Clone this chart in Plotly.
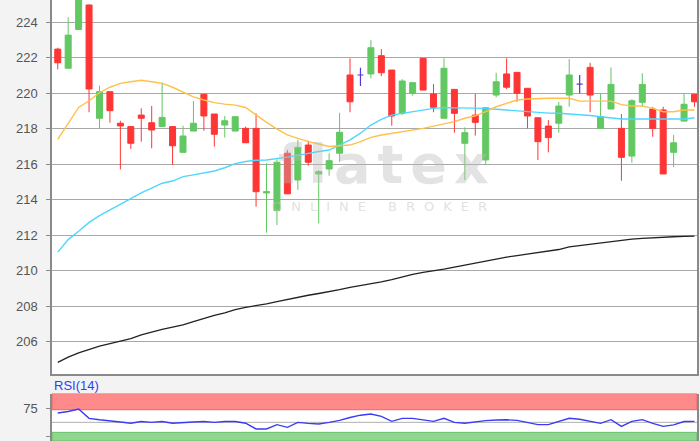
import plotly.graph_objects as go

# ---- data ----
opens = [222.49, 221.41, 223.60, 224.98, 218.59, 220.09, 218.31, 218.12, 218.77, 218.34,
         218.12, 218.12, 216.67, 217.87, 219.94, 218.83, 218.21, 217.87, 218.02, 218.02,
         214.38, 213.38, 216.62, 215.11, 217.08, 215.45, 215.73, 216.62, 221.03, 221.03,
         221.09, 222.12, 221.31, 218.87, 220.00, 221.97, 219.96, 218.59, 220.22, 217.18,
         218.77, 216.24, 219.90, 221.09, 221.18, 220.28, 218.62, 218.15, 218.31, 219.90,
         220.52, 221.46, 218.02, 219.11, 218.02, 216.46, 219.49, 219.11, 219.06, 216.67,
         218.43, 219.94]
highs = [222.57, 224.28, 225.90, 225.00, 220.43, 220.10, 218.45, 218.12, 219.15, 219.28,
         220.60, 218.12, 218.17, 219.56, 219.96, 218.83, 218.72, 218.70, 218.12, 218.87,
         216.05, 216.28, 216.80, 217.37, 217.33, 215.67, 216.62, 218.90, 221.97, 221.44,
         223.00, 222.49, 221.31, 220.80, 220.60, 221.97, 220.52, 221.97, 220.22, 218.08,
         219.96, 219.19, 221.16, 221.97, 221.18, 220.28, 218.62, 218.49, 219.52, 221.93,
         221.03, 221.72, 219.96, 221.46, 218.83, 219.66, 221.13, 219.24, 219.24, 217.65,
         219.96, 219.94]
lows = [221.35, 221.41, 223.60, 218.93, 218.02, 218.34, 215.71, 216.86, 217.27, 216.90,
        218.12, 215.96, 216.67, 217.87, 217.89, 216.99, 217.50, 217.87, 217.21, 213.60,
        212.14, 212.57, 214.33, 214.55, 215.92, 212.67, 215.35, 216.14, 218.93, 220.41,
        220.84, 220.97, 218.17, 218.77, 219.86, 220.18, 218.93, 218.59, 217.78, 215.11,
        217.61, 216.01, 219.77, 220.24, 219.52, 218.02, 216.24, 216.67, 217.78, 219.24,
        220.00, 218.93, 218.02, 219.11, 215.07, 216.08, 219.24, 217.55, 215.45, 215.83,
        218.43, 219.24]
closes = [221.72, 223.28, 225.60, 220.24, 220.09, 219.02, 218.16, 217.18, 218.59, 217.93,
          218.64, 217.04, 217.59, 218.31, 218.72, 217.69, 218.45, 218.68, 217.21, 214.45,
          214.45, 216.11, 214.33, 216.95, 216.11, 215.58, 216.20, 217.80, 219.52, 221.03,
          222.57, 221.16, 218.72, 220.69, 220.60, 220.18, 219.21, 221.41, 218.87, 217.78,
          218.36, 219.19, 220.65, 220.34, 220.00, 218.72, 217.27, 217.50, 219.28, 221.03,
          220.52, 219.90, 218.68, 220.50, 216.39, 219.58, 220.50, 218.02, 215.45, 217.21,
          219.38, 219.52]

ma_short = [217.40, 218.30, 219.20, 219.58, 220.03, 220.34, 220.56, 220.65, 220.73, 220.65,
            220.56, 220.34, 220.05, 219.80, 219.62, 219.47, 219.39, 219.33, 219.20, 218.77,
            218.36, 217.98, 217.65, 217.46, 217.27, 217.14, 217.00, 217.04, 217.08, 217.27,
            217.51, 217.65, 217.74, 217.83, 217.93, 218.02, 218.15, 218.27, 218.40, 218.59,
            218.73, 218.96, 219.24, 219.43, 219.62, 219.68, 219.72, 219.72, 219.72, 219.72,
            219.56, 219.56, 219.56, 219.56, 219.36, 219.28, 219.28, 219.15, 218.96, 218.96,
            219.06, 219.06]
ma_mid = [211.04, 211.75, 212.22, 212.72, 213.10, 213.42, 213.72, 214.04, 214.38, 214.65,
          214.93, 215.05, 215.30, 215.40, 215.50, 215.62, 215.80, 216.03, 216.15, 216.22,
          216.24, 216.30, 216.40, 216.50, 216.63, 216.72, 216.80, 217.08, 217.37, 217.75,
          218.21, 218.53, 218.77, 218.87, 218.96, 219.09, 219.15, 219.19, 219.19, 219.19,
          219.17, 219.15, 219.10, 219.06, 218.98, 218.94, 218.90, 218.88, 218.87, 218.84,
          218.81, 218.75, 218.68, 218.62, 218.55, 218.55, 218.55, 218.57, 218.59, 218.57,
          218.55, 218.62]
ma_long = [204.83, 205.12, 205.36, 205.55, 205.74, 205.88, 206.02, 206.17, 206.38, 206.54,
           206.68, 206.81, 206.94, 207.13, 207.32, 207.48, 207.62, 207.80, 207.93, 208.02,
           208.13, 208.25, 208.38, 208.50, 208.61, 208.71, 208.81, 208.93, 209.06, 209.15,
           209.26, 209.37, 209.49, 209.65, 209.79, 209.90, 209.98, 210.08, 210.20, 210.32,
           210.43, 210.55, 210.66, 210.76, 210.85, 210.94, 211.01, 211.09, 211.19, 211.34,
           211.42, 211.50, 211.58, 211.65, 211.71, 211.78, 211.82, 211.86, 211.89, 211.91,
           211.93, 211.95]
rsi = [66.4, 69.0, 73.3, 57.0, 54.5, 53.0, 50.5, 48.5, 51.5, 50.0,
       51.5, 48.5, 50.0, 50.5, 51.5, 50.0, 51.5, 51.5, 48.5, 38.5,
       38.5, 46.0, 41.3, 50.0, 48.3, 47.2, 50.0, 53.5, 58.5, 62.5,
       64.6, 60.5, 51.7, 57.0, 57.0, 55.0, 51.7, 57.0, 50.0, 48.5,
       51.0, 53.0, 54.0, 54.5, 53.5, 50.0, 46.0, 46.0, 51.7, 57.0,
       55.5, 52.0, 48.3, 54.7, 43.0, 51.7, 54.7, 48.3, 43.0, 45.5,
       51.5, 51.7]

price_ticks = [206, 208, 210, 212, 214, 216, 218, 220, 222, 224]
rsi_ticks = [25, 75]
rsi_upper_band = [72, 100.1]
rsi_lower_band = [17.5, 32.6]

x = list(range(len(opens)))
idx_body = [i for i in x if opens[i] != closes[i]]
idx_doji = [i for i in x if opens[i] == closes[i]]

GREEN = "#62c862"
RED = "#ff3535"
DOJI = "#5536d6"

fig = go.Figure()

fig.add_trace(go.Candlestick(
    x=[x[i] for i in idx_body],
    open=[opens[i] for i in idx_body], high=[highs[i] for i in idx_body],
    low=[lows[i] for i in idx_body], close=[closes[i] for i in idx_body],
    increasing=dict(line=dict(color=GREEN, width=1), fillcolor=GREEN),
    decreasing=dict(line=dict(color=RED, width=1), fillcolor=RED),
    xaxis="x", yaxis="y", showlegend=False, hoverinfo="skip"))
fig.add_trace(go.Candlestick(
    x=[x[i] for i in idx_doji],
    open=[opens[i] for i in idx_doji], high=[highs[i] for i in idx_doji],
    low=[lows[i] for i in idx_doji], close=[closes[i] for i in idx_doji],
    increasing=dict(line=dict(color=DOJI, width=1.2), fillcolor=DOJI),
    decreasing=dict(line=dict(color=DOJI, width=1.2), fillcolor=DOJI),
    xaxis="x", yaxis="y", showlegend=False, hoverinfo="skip"))

fig.add_trace(go.Scatter(x=x, y=ma_long, mode="lines", line=dict(color="#222222", width=1.3),
                         xaxis="x", yaxis="y", showlegend=False))
fig.add_trace(go.Scatter(x=x, y=ma_mid, mode="lines", line=dict(color="#4fd6ff", width=1.4),
                         xaxis="x", yaxis="y", showlegend=False))
fig.add_trace(go.Scatter(x=x, y=ma_short, mode="lines", line=dict(color="#ffc04a", width=1.4),
                         xaxis="x", yaxis="y", showlegend=False))

fig.add_trace(go.Scatter(x=x, y=rsi, mode="lines", line=dict(color="#3a3cf5", width=1.4),
                         xaxis="x2", yaxis="y2", showlegend=False))

xrange = [-0.55, 61.24]
main_dom = [1 - 374 / 441, 1]
rsi_dom = [0, 47.4 / 441]

shapes = [
    dict(type="rect", xref="x2 domain", yref="y2", x0=0, x1=1,
         y0=rsi_upper_band[0], y1=rsi_upper_band[1],
         fillcolor="#ff8a8a", line=dict(color="#e26a6a", width=1), layer="below"),
    dict(type="rect", xref="x2 domain", yref="y2", x0=0, x1=1,
         y0=rsi_lower_band[0], y1=rsi_lower_band[1],
         fillcolor="#8fd68f", line=dict(color="#6cc06c", width=1), layer="below"),
    dict(type="line", xref="x2 domain", yref="y2", x0=0, x1=1, y0=50, y1=50,
         line=dict(color="#b0b0b0", width=1), layer="below"),
]

annotations = [
    dict(text='<span style="letter-spacing:7px">flatex</span>', xref="paper", yref="paper",
         x=0.52, y=0.626, xanchor="center", yanchor="middle", showarrow=False,
         font=dict(family="DejaVu Sans", size=54, color="rgba(185,185,185,0.4)", weight="bold")),
    dict(text='<span style="letter-spacing:9px">ONLINE BROKER</span>', xref="paper", yref="paper",
         x=0.515, y=0.531, xanchor="center", yanchor="middle", showarrow=False,
         font=dict(family="DejaVu Sans", size=13, color="rgba(195,195,195,0.5)")),
    dict(text="RSI(14)", xref="paper", yref="paper", x=0.0, y=1 - 385 / 441,
         xanchor="left", yanchor="middle", showarrow=False,
         font=dict(family="Liberation Sans, Arial", size=13, color="#2f3ff0")),
]

fig.update_layout(
    width=700, height=441,
    margin=dict(l=52, r=3, t=0, b=0),
    paper_bgcolor="#f3f3f3", plot_bgcolor="#ffffff",
    font=dict(family="Liberation Sans, Arial", size=13, color="#555555"),
    boxgap=0.18,
    shapes=shapes, annotations=annotations,
    xaxis=dict(domain=[0, 1], range=xrange, anchor="y", showticklabels=False, ticks="",
               showgrid=False, zeroline=False, showline=True, linecolor="#8a8a8a", linewidth=1.5,
               rangeslider=dict(visible=False)),
    yaxis=dict(domain=main_dom, range=[204.17, 225.26], anchor="x", tickvals=price_ticks,
               ticks="outside", ticklen=4, tickcolor="#8a8a8a", ticklabelstandoff=6,
               showgrid=True, gridcolor="#a8a8a8", gridwidth=1, zeroline=False,
               showline=True, linecolor="#8a8a8a", linewidth=1.5, mirror=True),
    xaxis2=dict(domain=[0, 1], range=xrange, anchor="y2", showticklabels=False, ticks="",
                showgrid=False, zeroline=False, showline=False,
                rangeslider=dict(visible=False)),
    yaxis2=dict(domain=rsi_dom, range=[17.5, 100.1], anchor="x2", tickvals=rsi_ticks,
                ticks="outside", ticklen=4, tickcolor="#8a8a8a", ticklabelstandoff=6,
                showgrid=False, zeroline=False, showline=True, linecolor="#8a8a8a",
                linewidth=1.5, mirror=True),
)

fig.write_html(
    "out.html", config={"displayModeBar": False},
    post_script="document.body.style.margin='0';document.body.style.overflow='hidden';")
